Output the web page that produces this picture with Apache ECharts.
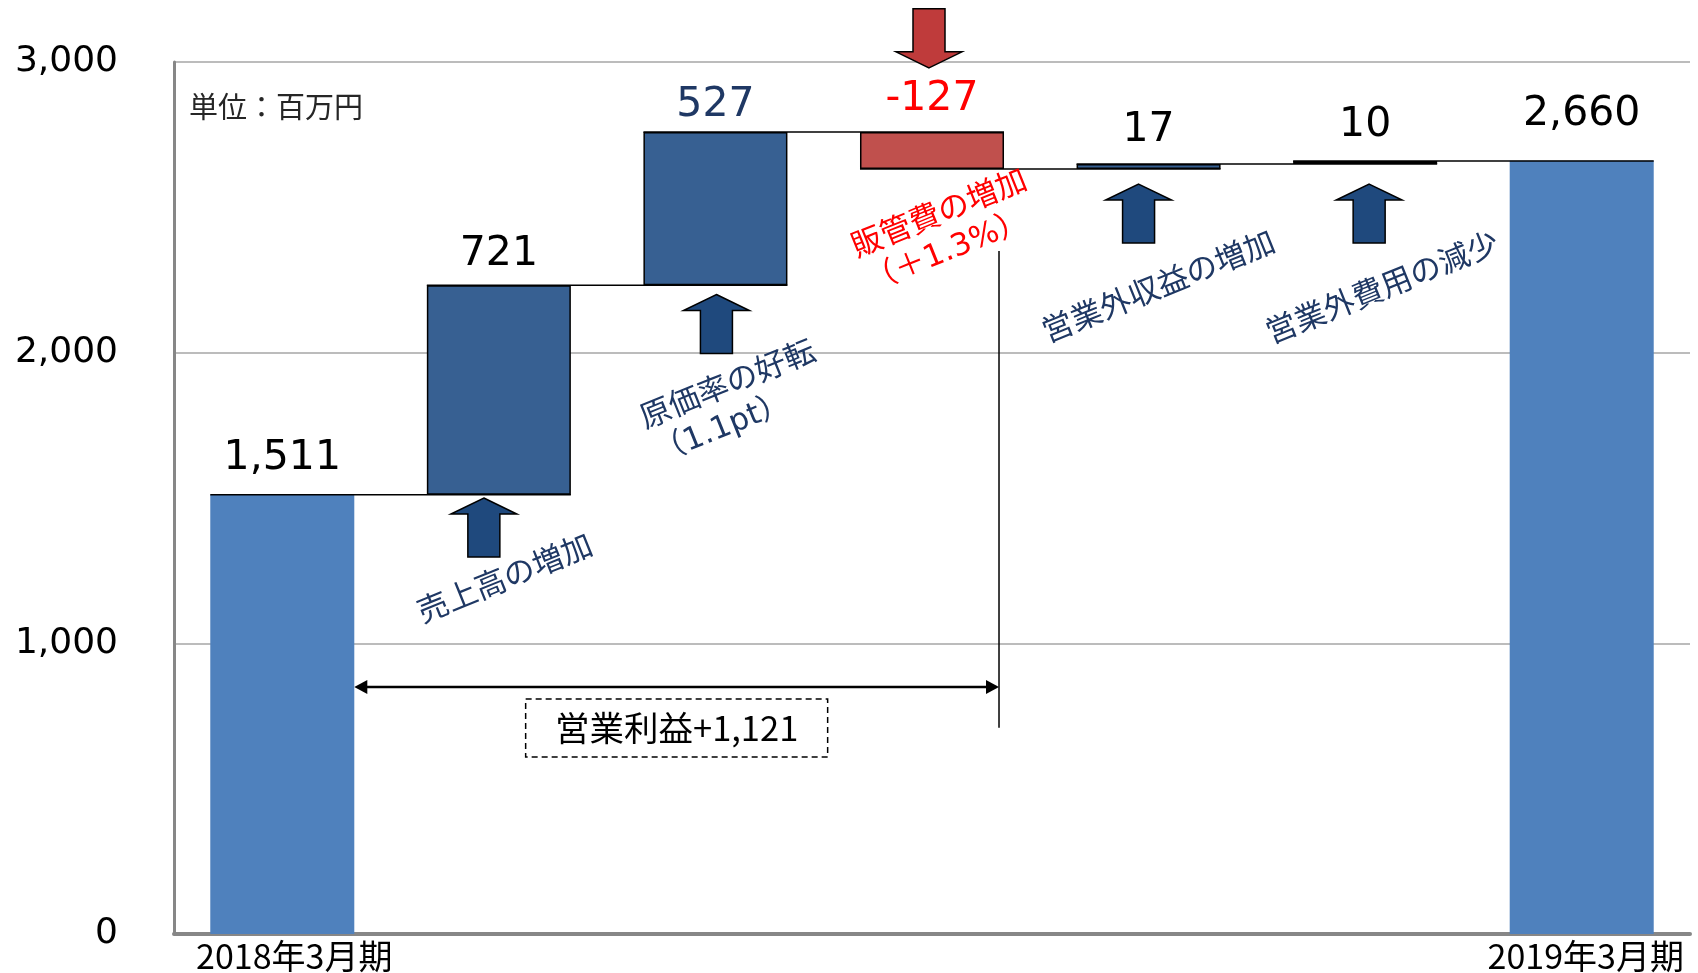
<!DOCTYPE html>
<html>
<head>
<meta charset="utf-8">
<script src="https://cdn.jsdelivr.net/npm/echarts@6/dist/echarts.min.js"></script>
<style>
html,body{margin:0;padding:0;background:#fff;}
#c{width:1698px;height:973px;}
</style>
</head>
<body>
<div id="c"></div>
<script>
// ---------- data ----------
const categories = ['2018年3月期', '売上高の増加', '原価率の好転', '販管費の増加', '営業外収益の増加', '営業外費用の減少', '2019年3月期'];
const startValue = 1511;
const changes = [721, 527, -127, 17, 10];
const endValue = 2660;
const yTicks = [0, 1000, 2000, 3000];
const notes = ['売上高の増加', '原価率の好転\n（1.1pt）', '販管費の増加\n（＋1.3%）', '営業外収益の増加', '営業外費用の減少'];
const operatingProfitText = '営業利益+1,121';
const unitText = '単位：百万円';

// ---------- style / layout ----------
const BAR_RATIO = 0.665;
const NUM_FONT = "'DejaVu Sans', 'Noto Sans CJK JP', sans-serif";
const JP_FONT = "'Noto Sans CJK JP', sans-serif";
const NAVY = '#1F3864';
const COLOR_TOTAL = '#4F81BD', COLOR_UP = '#376092', COLOR_DOWN = '#C0504D';
const labelLift = [16, 10, 6, 12, 13, 15, 26];          // px distance of value labels
const labelColorFor = {2: '#1F3864', 3: '#FF0000'};     // by category index
const axisLabelShift = {0: 24, 6: 8};                   // px left padding of end labels
const arrowLayout = [ // [category index, tip value, dx px, direction]
  [1, 1500, -15, 1], [2, 2200, 1, 1], [3, 2980, -3, -1], [4, 2580, -10, 1], [5, 2580, 4, 1]
];
const noteLayout = [ // [category index, centre value, dx px, align, colour]
  [1, 1215, 7, 'center', NAVY], [2, 1825, 20, 'left', NAVY], [3, 2414, 15, 'left', '#FF0000'],
  [4, 2219, 11, 'center', NAVY], [5, 2215, 18, 'center', NAVY]
];
const bracket = {arrowValue: 850, lineTop: 2350, lineBottom: 710};

// ---------- derived waterfall ----------
const bases = [0], heights = [startValue], levels = [startValue], labelsTxt = [startValue];
let run = startValue;
changes.forEach(c => {
  const next = run + c;
  bases.push(Math.min(run, next));
  heights.push(Math.abs(c));
  labelsTxt.push(c);
  run = next;
  levels.push(run);
});
bases.push(0); heights.push(endValue); labelsTxt.push(endValue);
levels.pop(); levels.push(run);
const fmt = v => (v < 0 ? '-' : '') + Math.abs(v).toLocaleString('en-US');

const valueData = heights.map((h, i) => {
  const isTotal = i === 0 || i === heights.length - 1;
  const isDown = !isTotal && changes[i - 1] < 0;
  return {
    value: h,
    itemStyle: isTotal ? {color: COLOR_TOTAL, borderWidth: 0}
      : {color: isDown ? COLOR_DOWN : COLOR_UP, borderColor: '#000', borderWidth: 1.5},
    label: {distance: labelLift[i], color: labelColorFor[i] || '#000'}
  };
});

const xData = categories.map((c, i) => axisLabelShift[i] != null
  ? {value: c, textStyle: {padding: [0, 0, 0, axisLabelShift[i]]}} : c);

const chart = echarts.init(document.getElementById('c'), null, {renderer: 'canvas'});

function arrowPoints(x, y, dir) {
  const hw = 33, hh = 16, sw = 16, L = 59;
  return [[x, y], [x + hw, y + dir * hh], [x + sw, y + dir * hh], [x + sw, y + dir * L],
          [x - sw, y + dir * L], [x - sw, y + dir * hh], [x - hw, y + dir * hh]];
}

const option = {
  animation: false,
  backgroundColor: '#fff',
  grid: {left: 174, right: 8, top: 62, bottom: 35, containLabel: false},
  xAxis: {
    type: 'category', data: xData,
    axisLine: {lineStyle: {color: '#878787', width: 4}},
    axisTick: {show: false},
    axisLabel: {
      interval: 0, margin: 5, fontSize: 34, fontFamily: JP_FONT, color: '#000',
      formatter: (v, i) => (i === 0 || i === categories.length - 1) ? v : ''
    }
  },
  yAxis: {
    type: 'value', min: yTicks[0], max: yTicks[yTicks.length - 1], interval: yTicks[1] - yTicks[0],
    axisLine: {show: true, lineStyle: {color: '#878787', width: 3}},
    axisTick: {show: false},
    splitLine: {lineStyle: {color: '#A6A6A6', width: 1.5}},
    axisLabel: {formatter: v => v.toLocaleString('en-US'), fontSize: 36, fontFamily: NUM_FONT,
      color: '#000', margin: 56, padding: [0, 0, 10, 0]}
  },
  graphic: [{
    type: 'text', left: 189, top: 92,
    style: {text: unitText, font: "29px 'Noto Sans CJK JP'", fill: '#262626'}
  }],
  series: [
    {
      type: 'bar', stack: 'w', data: bases, barWidth: (BAR_RATIO * 100) + '%',
      itemStyle: {color: 'transparent'}, silent: true
    },
    {
      type: 'bar', stack: 'w', data: valueData, barWidth: (BAR_RATIO * 100) + '%',
      label: {
        show: true, position: 'top', fontSize: 41, fontFamily: NUM_FONT,
        formatter: p => fmt(labelsTxt[p.dataIndex])
      }
    },
    { // connectors
      type: 'custom', z: 5, silent: true,
      data: levels.map((lv, i) => [i, lv]),
      renderItem: (params, api) => {
        const i = api.value(0), lv = api.value(1);
        const p1 = api.coord([i, lv]), p2 = api.coord([i + 1, lv]);
        const bw = api.size([1, 0])[0] * BAR_RATIO;
        return {type: 'line', shape: {x1: p1[0] - bw / 2, y1: p1[1], x2: p2[0] + bw / 2, y2: p2[1]},
          style: {stroke: '#000', lineWidth: 1.5}};
      }
    },
    { // block arrows
      type: 'custom', z: 6, silent: true,
      data: arrowLayout,
      renderItem: (params, api) => {
        const p = api.coord([api.value(0), api.value(1)]);
        const dir = api.value(3);
        return {type: 'polygon', shape: {points: arrowPoints(p[0] + api.value(2), p[1], dir)},
          style: {fill: dir > 0 ? '#1F497D' : '#BF3B3B', stroke: '#000', lineWidth: 1.5}};
      }
    },
    { // rotated notes
      type: 'custom', z: 7, silent: true,
      data: noteLayout.map((n, k) => [n[0], n[1], n[2], k]),
      renderItem: (params, api) => {
        const k = api.value(3);
        const lay = noteLayout[k];
        const p = api.coord([api.value(0), api.value(1)]);
        const left = lay[3] === 'left';
        return {
          type: 'text', x: p[0] + api.value(2), y: p[1], rotation: 22 * Math.PI / 180,
          style: {text: notes[k], x: left ? -93 : 0, y: 0, align: left ? 'left' : 'center',
            verticalAlign: 'middle', fill: lay[4], font: "31px 'DejaVu Sans', 'Noto Sans CJK JP'", lineHeight: 37}
        };
      }
    },
    { // operating-profit bracket
      type: 'custom', z: 6, silent: true,
      data: [[0, bracket.arrowValue]],
      renderItem: (params, api) => {
        const bw = api.size([1, 0])[0] * BAR_RATIO;
        const pL = api.coord([0, bracket.arrowValue]);
        const pR = api.coord([3, bracket.arrowValue]);
        const y = pL[1];
        const x1 = pL[0] + bw / 2, x2 = pR[0] + bw / 2 - 5;
        const yT = api.coord([3, bracket.lineTop])[1], yB = api.coord([3, bracket.lineBottom])[1];
        const cx = (x1 + x2) / 2, cy = y + 41;
        return {type: 'group', children: [
          {type: 'line', shape: {x1: x2, y1: yT, x2: x2, y2: yB}, style: {stroke: '#000', lineWidth: 1.5}},
          {type: 'line', shape: {x1: x1 + 8, y1: y, x2: x2 - 8, y2: y}, style: {stroke: '#000', lineWidth: 2.5}},
          {type: 'polygon', shape: {points: [[x1, y], [x1 + 13, y - 7], [x1 + 13, y + 7]]}, style: {fill: '#000'}},
          {type: 'polygon', shape: {points: [[x2, y], [x2 - 13, y - 7], [x2 - 13, y + 7]]}, style: {fill: '#000'}},
          {type: 'rect', shape: {x: cx - 151, y: cy - 29, width: 302, height: 58},
            style: {fill: '#fff', stroke: '#000', lineWidth: 1.5, lineDash: [6, 4]}},
          {type: 'text', x: cx, y: cy, style: {text: operatingProfitText, align: 'center', verticalAlign: 'middle',
            fill: '#000', font: "34.5px 'Noto Sans CJK JP'"}}
        ]};
      }
    }
  ]
};
chart.setOption(option);
</script>
</body>
</html>
